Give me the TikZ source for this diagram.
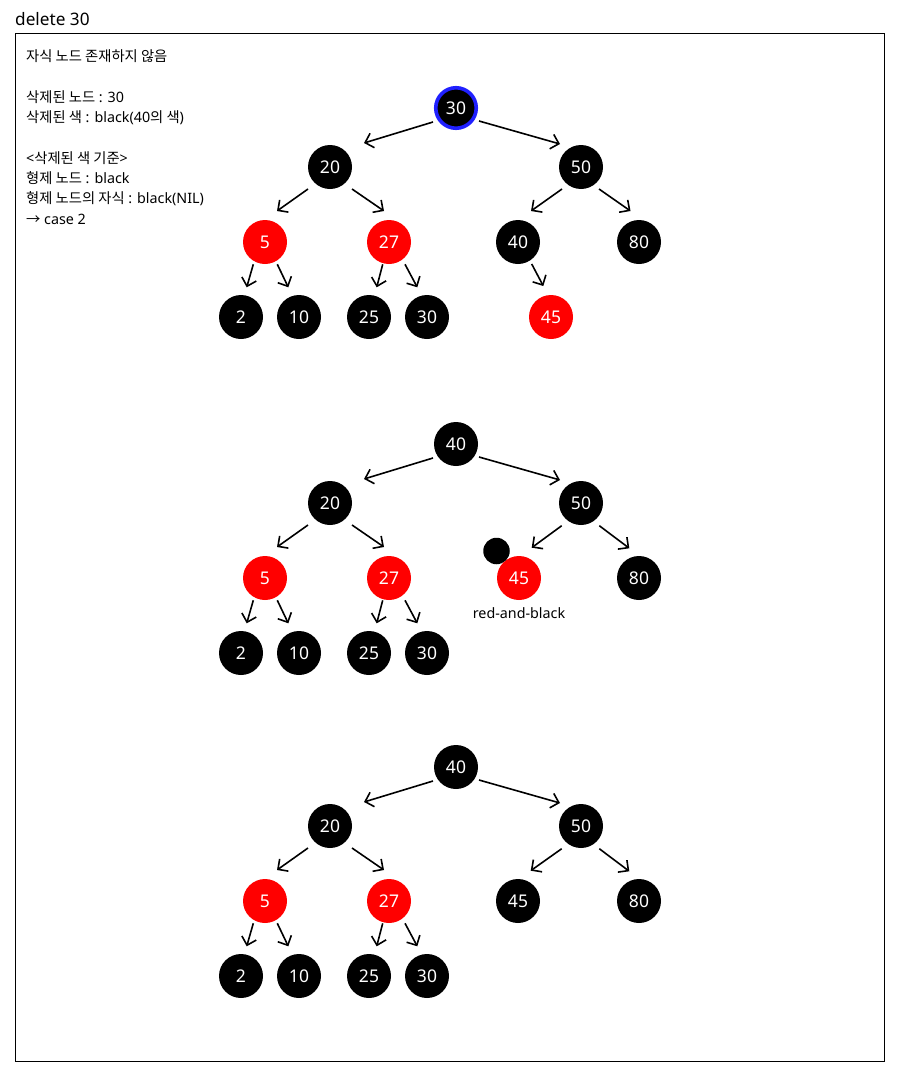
\documentclass[tikz,border=0pt]{standalone}
\usepackage{fontspec}
\setmainfont{Noto Sans}
\newfontfamily\kr{Noto Sans CJK KR}
\usetikzlibrary{arrows.meta,calc}
\definecolor{rbred}{RGB}{255,0,0}
\definecolor{ringblue}{RGB}{32,32,255}
\tikzset{
  rb/.style={circle,minimum size=44pt,inner sep=0pt,text=white,font=\fontsize{17.5}{19}\selectfont},
  bk/.style={rb,fill=black},
  rd/.style={rb,fill=rbred},
  edge/.style={line width=1.6pt,-{Straight Barb[length=7.5pt,width=15pt,line width=1.6pt]}},
  txt/.style={anchor=base west,inner sep=0pt,font=\fontsize{14.3}{16}\selectfont},
}
% \tr{parent}{child}{parent offset}{child offset}
\newcommand{\tr}[4]{\draw[edge] ($(#1)+(#3)$) -- ($(#2)+(#4)$);}
\begin{document}
\begin{tikzpicture}[x=1pt,y=-1pt]
\useasboundingbox (0,0) rectangle (898,1076);
\draw[line width=1pt] (15,33) rectangle (884,1061);
\node[anchor=base west,inner sep=0pt,font=\fontsize{17.2}{19}\selectfont] (title) at (15,25) {delete 30};
\node[txt] (t1) at (26,61) {{\kr 자식 노드 존재하지 않음}};
\node[txt] (t2) at (26,102) {{\kr 삭제된 노드} : 30};
\node[txt] (t3) at (26,122) {{\kr 삭제된 색} : black(40{\kr 의 색})};
\node[txt] (t4) at (26,163) {<{\kr 삭제된 색 기준}>};
\node[txt] (t5) at (26,183) {{\kr 형제 노드} : black};
\node[txt] (t6) at (26,203) {{\kr 형제 노드의 자식} : black(NIL)};
\node[txt] (t7) at (26,224) {{\kr →} case 2};
% tree 1
\node[bk,draw=ringblue,line width=3.6pt,minimum size=40.5pt] (a30) at (456,108) {30};
\node[bk] (a20) at (330,167) {20};
\node[bk] (a50) at (581,167) {50};
\node[rd] (a5) at (265,242) {5};
\node[rd] (a27) at (389,242) {27};
\node[bk] (a40) at (518,242) {40};
\node[bk] (a80) at (639,242) {80};
\node[bk] (a2) at (241,317) {2};
\node[bk] (a10) at (299,317) {10};
\node[bk] (a25) at (369,317) {25};
\node[bk] (a30b) at (427,317) {30};
\node[rd] (a45) at (551,317) {45};
\tr{a30}{a20}{-23,14}{34,-24}
\tr{a30}{a50}{23,13}{-21,-23}
\tr{a20}{a5}{-22,22}{12,-31}
\tr{a20}{a27}{22,22}{-5,-31}
\tr{a50}{a40}{-19,22}{13,-31}
\tr{a50}{a80}{18,22}{-8.5,-31}
\tr{a5}{a2}{-11.7,22.3}{5.7,-29.7}
\tr{a5}{a10}{12.3,22.3}{-10.7,-29.7}
\tr{a27}{a25}{-6.3,22.3}{7.7,-29.7}
\tr{a27}{a30b}{16,22.3}{-9.7,-29.7}
\tr{a40}{a45}{13.7,22}{-7.7,-31}
% tree 2
\node[bk] (b40) at (456,444) {40};
\node[bk] (b20) at (330,503) {20};
\node[bk] (b50) at (581,503) {50};
\node[rd] (b5) at (265,578) {5};
\node[rd] (b27) at (389,578) {27};
\node[rd] (b45) at (519,578) {45};
\node[bk] (b80) at (639,578) {80};
\node[bk] (b2) at (241,653) {2};
\node[bk] (b10) at (299,653) {10};
\node[bk] (b25) at (369,653) {25};
\node[bk] (b30) at (427,653) {30};
\node[circle,fill=black,minimum size=26.5pt,inner sep=0pt] (dot) at (496.5,551) {};
\node[anchor=center,inner sep=0pt,font=\fontsize{14.3}{16}\selectfont] (rab) at (519,613) {red-and-black};
\tr{b40}{b20}{-23,14}{34,-24}
\tr{b40}{b50}{23,13}{-21,-23}
\tr{b20}{b5}{-22,22}{12,-31}
\tr{b20}{b27}{22,22}{-5,-31}
\tr{b50}{b45}{-19.3,22.7}{12.7,-30.3}
\tr{b50}{b80}{18.3,22.7}{-9.7,-29.7}
\tr{b5}{b2}{-11.7,22.3}{5.7,-29.7}
\tr{b5}{b10}{12.3,22.3}{-10.7,-29.7}
\tr{b27}{b25}{-6.3,22.3}{7.7,-29.7}
\tr{b27}{b30}{16,22.3}{-9.7,-29.7}
% tree 3
\node[bk] (c40) at (456,767) {40};
\node[bk] (c20) at (330,826) {20};
\node[bk] (c50) at (581,826) {50};
\node[rd] (c5) at (265,901) {5};
\node[rd] (c27) at (389,901) {27};
\node[bk] (c45) at (518,901) {45};
\node[bk] (c80) at (639,901) {80};
\node[bk] (c2) at (241,976) {2};
\node[bk] (c10) at (299,976) {10};
\node[bk] (c25) at (369,976) {25};
\node[bk] (c30) at (427,976) {30};
\tr{c40}{c20}{-23,14}{34,-24}
\tr{c40}{c50}{23,13}{-21,-23}
\tr{c20}{c5}{-22,22}{12,-31}
\tr{c20}{c27}{22,22}{-5,-31}
\tr{c50}{c45}{-19.3,22.7}{12.7,-30.3}
\tr{c50}{c80}{18.3,22.7}{-9.7,-29.7}
\tr{c5}{c2}{-11.7,22.3}{5.7,-29.7}
\tr{c5}{c10}{12.3,22.3}{-10.7,-29.7}
\tr{c27}{c25}{-6.3,22.3}{7.7,-29.7}
\tr{c27}{c30}{16,22.3}{-9.7,-29.7}
\end{tikzpicture}
\end{document}
